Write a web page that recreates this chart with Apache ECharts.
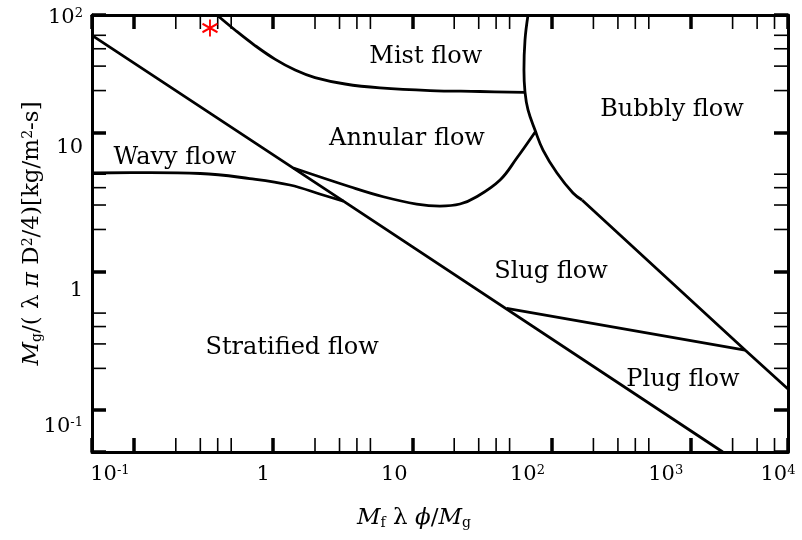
<!DOCTYPE html>
<html>
<head>
<meta charset="utf-8">
<title>Flow pattern map</title>
<script src="https://cdn.jsdelivr.net/npm/echarts@6/dist/echarts.min.js"></script>
<style>
  html, body { margin: 0; padding: 0; background: #fff; }
  #chart { width: 802px; height: 540px; }
</style>
</head>
<body>
<div id="chart"></div>
<script>
// axis ranges, both log10
const xRange = [0.05, 5000];
const yRange = [0.05, 70];

// tick labels as printed on the figure (last one sits on the axis end)
const xLabelValues = [0.1, 1, 10, 100, 1000, 5000];
const xLabelTexts = ['10^-1', '1', '10', '10^2', '10^3', '10^4'];
const yLabelValues = [0.1, 1, 10, 70];
const yLabelTexts = ['10^-1', '1', '10', '10^2'];

// minor ticks: 2,3,4,5 of each decade
const xMinorTicks = [0.2, 0.3, 0.4, 0.5, 2, 3, 4, 5, 20, 30, 40, 50, 200, 300, 400, 500, 2000, 3000, 4000];
const yMinorTicks = [0.2, 0.3, 0.4, 0.5, 2, 3, 4, 5, 20, 30, 40, 50];

// boundary lines [x, y]
const stratifiedLine = [[0.05, 50], [3.2, 3.2], [1700, 0.05]];
const wavyCurve = [[0.05, 5.1], [0.13, 5.13], [0.30, 5.06], [0.68, 4.65], [1.32, 4.18], [2.28, 3.54], [3.2, 3.2]];
const annularCurve = [[1.4, 5.54], [3.57, 4.06], [6.19, 3.44], [10.75, 3.05], [15.8, 2.95], [22, 3.05], [29, 3.44], [42.7, 4.54], [56.2, 6.51], [77, 10.2]];
const mistCurve = [[0.395, 70], [0.532, 54.6], [0.741, 42.2], [1.03, 33.7], [1.44, 28.1], [2.0, 24.8], [3.29, 22.3], [5.86, 20.9], [13.4, 20.0], [30.6, 19.7], [64.5, 19.4]];
const bubblyCurve = [[67.8, 70], [64.5, 46.2], [63.4, 28.1], [64.5, 19.5], [67.8, 14.5], [76.1, 10.4], [86.9, 7.46], [109.5, 5.10], [142.7, 3.66], [165.6, 3.26]];
const bubblyLine = [[165.6, 3.26], [2456, 0.271], [5000, 0.142]];
const slugPlugLine = [[47.7, 0.54], [2456, 0.271]];
const operatingPoint = [[0.352, 56.4]];

// regime names and where they sit
const regionNames = ['Mist flow', 'Annular flow', 'Bubbly flow', 'Wavy flow', 'Slug flow', 'Plug flow', 'Stratified flow'];
const regionAnchors = [[12.5, 34.9], [9.16, 8.96], [734, 14.5], [0.197, 6.54], [99.2, 1.0], [880, 0.165], [1.37, 0.28]];

// label nudges (px) to sit where the original put them
const xLabelShift = [-24, -10, -18, -24, -25, -10];
const yLabelShift = [16, 19, 15, 3];

const FONT = 'DejaVu Serif';
const INK = '#000';

function labelIndex(values, v) {
  for (let i = 0; i < values.length; i++) {
    if (Math.abs(Math.log10(v) - Math.log10(values[i])) < 1e-3) return i;
  }
  return -1;
}

function richLabel(text, i) {
  const parts = text.split('^');
  if (parts.length > 1) return '{b' + i + '|' + parts[0] + '}{s' + i + '|' + parts[1] + '}';
  return '{b' + i + '|' + parts[0] + '}';
}

const xRich = {};
xLabelTexts.forEach((t, i) => {
  const pad = [0, -2 * xLabelShift[i], 0, 0];
  const sup = t.indexOf('^') > -1;
  xRich['b' + i] = { fontSize: 21, fontFamily: FONT, color: INK, padding: sup ? 0 : pad };
  xRich['s' + i] = { fontSize: 13, fontFamily: FONT, color: INK, verticalAlign: 'top', padding: pad };
});
const yRich = {};
yLabelTexts.forEach((t, i) => {
  const pad = [2 * yLabelShift[i], 0, 0, 0];
  yRich['b' + i] = { fontSize: 21, fontFamily: FONT, color: INK, padding: pad };
  yRich['s' + i] = { fontSize: 13, fontFamily: FONT, color: INK, verticalAlign: 'top', padding: pad };
});

const nameRich = {
  i: { fontFamily: FONT, fontStyle: 'italic', fontSize: 23, color: INK },
  r: { fontFamily: FONT, fontSize: 23, color: INK },
  sub: { fontFamily: FONT, fontSize: 14, color: INK, verticalAlign: 'bottom' },
  sup: { fontFamily: FONT, fontSize: 14, color: INK, verticalAlign: 'top' }
};

const tickStyle = { inside: true, length: 14, lineStyle: { color: '#000', width: 3.5 } };
const frameLine = { show: true, onZero: false, lineStyle: { color: '#000', width: 3 } };

function axisBase(range) {
  return {
    type: 'log', logBase: 10, min: range[0], max: range[1],
    splitLine: { show: false },
    axisLine: frameLine,
    axisTick: tickStyle
  };
}

function minorTicks(values, dim) {
  return {
    type: 'custom',
    silent: true,
    clip: false,
    z: 5,
    data: values.map(v => dim === 'x' ? [v, yRange[0]] : [xRange[0], v]),
    renderItem(params, api) {
      const cs = params.coordSys;
      const p = api.coord([api.value(0), api.value(1)]);
      const L = 14;
      const style = { stroke: '#000', lineWidth: 1.6 };
      if (dim === 'x') {
        const b = cs.y + cs.height;
        return { type: 'group', children: [
          { type: 'line', shape: { x1: p[0], y1: b, x2: p[0], y2: b - L }, style },
          { type: 'line', shape: { x1: p[0], y1: cs.y, x2: p[0], y2: cs.y + L }, style }
        ] };
      }
      const r = cs.x + cs.width;
      return { type: 'group', children: [
        { type: 'line', shape: { x1: cs.x, y1: p[1], x2: cs.x + L, y2: p[1] }, style },
        { type: 'line', shape: { x1: r, y1: p[1], x2: r - L, y2: p[1] }, style }
      ] };
    }
  };
}

function boundary(data, smooth) {
  return {
    type: 'line', data, smooth: smooth, symbol: 'none',
    lineStyle: { color: '#000', width: 2.8 },
    z: 3
  };
}

const chart = echarts.init(document.getElementById('chart'));
chart.setOption({
  animation: false,
  backgroundColor: '#fff',
  grid: { left: 92, right: 14, top: 15, bottom: 88 },
  xAxis: [
    Object.assign(axisBase(xRange), {
      position: 'bottom',
      axisLabel: {
        showMinLabel: true, showMaxLabel: true, margin: 12,
        formatter: v => { const i = labelIndex(xLabelValues, v); return i < 0 ? '' : richLabel(xLabelTexts[i], i); },
        rich: xRich
      },
      name: '{i|M}{sub|f}{r| λ }{i|ϕ}{r|/}{i|M}{sub|g}',
      nameLocation: 'middle',
      nameGap: 55,
      nameMoveOverlap: false,
      nameTextStyle: { rich: nameRich, padding: [0, 52, 0, 0] }
    }),
    Object.assign(axisBase(xRange), { position: 'top', axisLabel: { show: false } })
  ],
  yAxis: [
    Object.assign(axisBase(yRange), {
      position: 'left',
      axisLabel: {
        showMinLabel: true, showMaxLabel: true, margin: 9,
        formatter: v => { const i = labelIndex(yLabelValues, v); return i < 0 ? '' : richLabel(yLabelTexts[i], i); },
        rich: yRich
      },
      name: '{i|M}{sub|g}{r|/( λ }{i|π}{r| D}{sup|2}{r|/4)[kg/m}{sup|2}{r|-s]}',
      nameLocation: 'middle',
      nameRotate: 90,
      nameGap: 48,
      nameMoveOverlap: false,
      nameTextStyle: { rich: nameRich }
    }),
    Object.assign(axisBase(yRange), { position: 'right', axisLabel: { show: false } })
  ],
  series: [
    minorTicks(xMinorTicks, 'x'),
    minorTicks(yMinorTicks, 'y'),
    boundary(stratifiedLine, false),
    boundary(wavyCurve, 0.4),
    boundary(annularCurve, 0.4),
    boundary(mistCurve, 0.4),
    boundary(bubblyCurve, 0.4),
    boundary(bubblyLine, false),
    boundary(slugPlugLine, false),
    {
      type: 'scatter',
      data: operatingPoint,
      symbol: 'path://M0,-10L0,10M-8.66,-5L8.66,5M-8.66,5L8.66,-5',
      symbolSize: [15, 17],
      itemStyle: { color: 'none', borderColor: '#ff0000', borderWidth: 2, opacity: 1 },
      z: 6
    },
    {
      type: 'scatter',
      data: regionNames.map((n, i) => ({ name: n, value: regionAnchors[i] })),
      symbolSize: 1,
      itemStyle: { color: 'rgba(0,0,0,0)', opacity: 1 },
      label: {
        show: true, position: 'inside', formatter: '{b}',
        fontFamily: FONT, fontSize: 24, color: INK, opacity: 1
      },
      z: 7
    }
  ]
});
</script>
</body>
</html>
